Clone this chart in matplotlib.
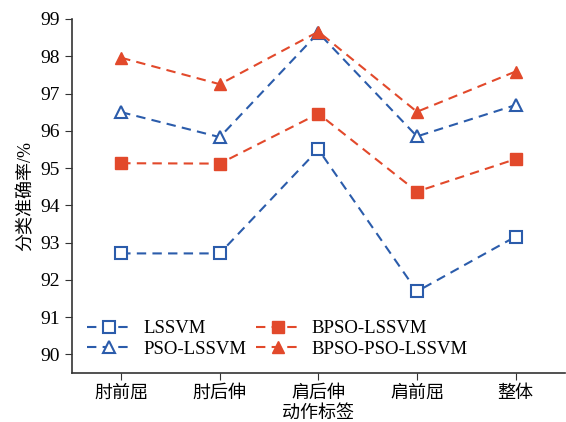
import matplotlib
matplotlib.use("Agg")
import matplotlib.pyplot as plt

plt.rcParams["font.family"] = ["Liberation Serif", "Noto Sans CJK SC"]

actions = ["肘前屈", "肘后伸", "肩后伸", "肩前屈", "整体"]
lssvm = [92.71, 92.71, 95.50, 91.69, 93.16]
pso_lssvm = [96.50, 95.83, 98.63, 95.85, 96.69]
bpso_lssvm = [95.13, 95.12, 96.46, 94.37, 95.24]
bpso_pso_lssvm = [97.96, 97.25, 98.66, 96.51, 97.59]

blue = "#2b5cab"
red = "#e2492b"
x = list(range(len(actions)))

fig = plt.figure(figsize=(5.66, 4.22), dpi=100)
ax = fig.add_axes([0.127, 0.116, 0.871, 0.839])

dash = (0, (4.5, 3))
ax.plot(x, lssvm, color=blue, linestyle=dash, linewidth=1.5, marker="s",
        markersize=8, markerfacecolor="white", markeredgewidth=1.5, label="LSSVM")
ax.plot(x, pso_lssvm, color=blue, linestyle=dash, linewidth=1.5, marker="^",
        markersize=8, markerfacecolor="white", markeredgewidth=1.5, label="PSO-LSSVM")
ax.plot(x, bpso_lssvm, color=red, linestyle=dash, linewidth=1.5, marker="s",
        markersize=8, label="BPSO-LSSVM")
ax.plot(x, bpso_pso_lssvm, color=red, linestyle=dash, linewidth=1.5, marker="^",
        markersize=8, label="BPSO-PSO-LSSVM")

ax.set_xlim(-0.5, 4.5)
ax.set_ylim(89.5, 99)
ax.set_yticks(range(90, 100))
ax.set_xticks(x)
ax.set_xticklabels(actions)
ax.tick_params(axis="y", labelsize=14, direction="out", length=5, color="#333333")
ax.tick_params(axis="x", labelsize=13, direction="out", length=5, color="#333333")
ax.spines["top"].set_visible(False)
ax.spines["right"].set_visible(False)
for s in ["left", "bottom"]:
    ax.spines[s].set_color("#333333")
    ax.spines[s].set_linewidth(1.2)

ax.set_xlabel("动作标签", fontsize=13, labelpad=2)
ax.set_ylabel("分类准确率/%", fontsize=13, labelpad=4)

ax.legend(loc="lower left", ncol=2, frameon=False, fontsize=13.5,
          bbox_to_anchor=(0.0, 0.0), columnspacing=0.5, handlelength=2.4,
          handletextpad=0.6, labelspacing=0.2, borderaxespad=0.4)

fig.savefig("out.png", dpi=100)
